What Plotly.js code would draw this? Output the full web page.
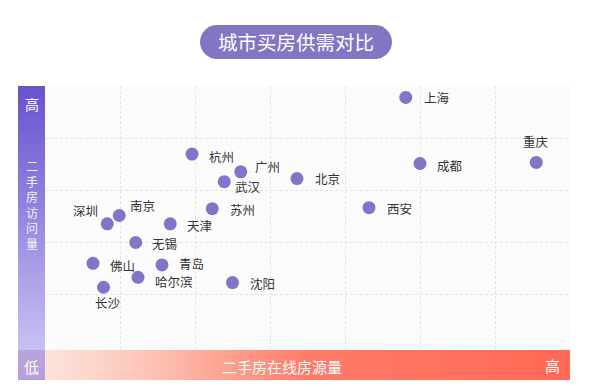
<!DOCTYPE html>
<html>
<head>
<meta charset="utf-8">
<script src="https://cdn.plot.ly/plotly-3.0.1.min.js"></script>
<style>
html,body{margin:0;padding:0;background:#fff;}
#chart{width:600px;height:385px;}
</style>
</head>
<body>
<div id="chart"></div>
<script>
// ---- data ----
var cities = ["上海","重庆","成都","北京","西安","杭州","广州","武汉","苏州","南京","深圳","天津","无锡","佛山","青岛","哈尔滨","沈阳","长沙"];
var onlineListings = [48.1, 65.5, 50.0, 33.6, 43.2, 19.6, 26.1, 23.9, 22.3, 9.9, 8.3, 16.7, 12.1, 6.4, 15.6, 12.4, 25.0, 7.8];
var visitVolume    = [47.8, 35.3, 35.1, 32.2, 26.6, 36.9, 33.5, 31.6, 26.4, 25.1, 23.5, 23.5, 19.9, 15.9, 15.6, 13.2, 12.2, 11.3];
var titleText = "城市买房供需对比";
var xAxisText = "二手房在线房源量";
var yAxisText = "二手房访问量";
var highText = "高";
var lowText = "低";

// ---- label placement (styling only) ----
var labelAnchor = ["left","center","left","left","left","left","left","left","left","left","right","left","left","left","left","left","left","center"];
var labelDx     = [16, 0, 15, 16, 16, 15, 12, 9, 16, 9, -7, 15, 14, 15, 15, 15, 15, 4];
var labelDy     = [0, 21, -2, 0, -1, -2, 5, -5, -1, 10, 13, -2, -1, -2, 1.5, -4.5, -1, -15];

var FONT = "Noto Sans CJK SC, Noto Sans, sans-serif";
var L = 45, R = 30, T = 86, B = 35, W = 600, H = 385;
var pw = W - L - R, ph = H - T - B;
function px2paperX(px){ return (px - L) / pw; }
function px2paperY(py){ return (H - B - py) / ph; }

function gradSvg(x1,y1,x2,y2,stops){
  var s = '<svg xmlns="http://www.w3.org/2000/svg" width="100" height="100" preserveAspectRatio="none" viewBox="0 0 100 100">' +
    '<defs><linearGradient id="g" x1="'+x1+'" y1="'+y1+'" x2="'+x2+'" y2="'+y2+'">';
  stops.forEach(function(st){ s += '<stop offset="'+st[0]+'" stop-color="'+st[1]+'"/>'; });
  s += '</linearGradient></defs><rect x="0" y="0" width="100" height="100" fill="url(#g)"/></svg>';
  return 'data:image/svg+xml;charset=utf-8,' + encodeURIComponent(s);
}

var trace = {
  type: "scatter",
  mode: "markers",
  x: onlineListings,
  y: visitVolume,
  text: cities,
  hoverinfo: "text",
  marker: {size: 13, color: "#8174c9", line: {width: 0}},
  cliponaxis: false
};

var annotations = cities.map(function(c, i){
  return {
    xref: "x", yref: "y", x: onlineListings[i], y: visitVolume[i],
    text: c, showarrow: false, xanchor: labelAnchor[i], yanchor: "middle",
    xshift: labelDx[i], yshift: labelDy[i],
    font: {family: FONT, size: 12.5, color: "#333333"}
  };
});

// title
annotations.push({xref:"paper", yref:"paper", x: px2paperX(296), y: px2paperY(42), text: titleText,
  showarrow:false, xanchor:"center", yanchor:"middle", font:{family:FONT, size:19.5, color:"#ffffff"}});
// x axis label
annotations.push({xref:"paper", yref:"paper", x: px2paperX(282), y: px2paperY(366), text: xAxisText,
  showarrow:false, xanchor:"center", yanchor:"middle", font:{family:FONT, size:15, color:"#ffffff"}});
annotations.push({xref:"paper", yref:"paper", x: px2paperX(552), y: px2paperY(365), text: highText,
  showarrow:false, xanchor:"center", yanchor:"middle", font:{family:FONT, size:15, color:"#ffffff"}});
// y axis label (vertical, stacked chars in one text)
annotations.push({xref:"paper", yref:"paper", x: px2paperX(31.5), y: px2paperY(104), text: highText,
  showarrow:false, xanchor:"center", yanchor:"middle", font:{family:FONT, size:14, color:"#ffffff"}});
annotations.push({xref:"paper", yref:"paper", x: px2paperX(31.5), y: px2paperY(204), text: yAxisText.split("").join("<br>"),
  showarrow:false, xanchor:"center", yanchor:"middle", borderpad: 0,
  font:{family:FONT, size:12, color:"rgba(255,255,255,0.92)"}});
annotations.push({xref:"paper", yref:"paper", x: px2paperX(31.5), y: px2paperY(366), text: lowText,
  showarrow:false, xanchor:"center", yanchor:"middle", font:{family:FONT, size:15, color:"#ffffff"}});

// rounded pill for title (pixel sized)
var pw2 = 96, ph2 = 17, r = 17, k = 0.5523*r;
var pill = "M " + (-pw2 + r) + " " + (-ph2) +
  " L " + (pw2 - r) + " " + (-ph2) +
  " C " + (pw2 - r + k) + " " + (-ph2) + " " + pw2 + " " + (-k) + " " + pw2 + " 0" +
  " C " + pw2 + " " + k + " " + (pw2 - r + k) + " " + ph2 + " " + (pw2 - r) + " " + ph2 +
  " L " + (-pw2 + r) + " " + ph2 +
  " C " + (-pw2 + r - k) + " " + ph2 + " " + (-pw2) + " " + k + " " + (-pw2) + " 0" +
  " C " + (-pw2) + " " + (-k) + " " + (-pw2 + r - k) + " " + (-ph2) + " " + (-pw2 + r) + " " + (-ph2) + " Z";

var shapes = [{
  type: "path", xref: "paper", yref: "paper", xsizemode: "pixel", ysizemode: "pixel",
  xanchor: px2paperX(296), yanchor: px2paperY(42), path: pill,
  fillcolor: "#8276c4", line: {width: 0}, layer: "below"
}];

var images = [
  { // y bar
    source: gradSvg(0,0,0,1,[[0,"#6a51cf"],[0.5,"#9488e0"],[1,"#c8c1f3"]]),
    xref:"paper", yref:"paper", x: px2paperX(18), y: px2paperY(86), sizex: 27/pw, sizey: 264/ph,
    xanchor:"left", yanchor:"top", sizing:"stretch", layer:"above"
  },
  { // low cell
    source: gradSvg(0,0,0,1,[[0,"#bba4dc"],[1,"#b69ed8"]]),
    xref:"paper", yref:"paper", x: px2paperX(18), y: px2paperY(350), sizex: 27/pw, sizey: 30/ph,
    xanchor:"left", yanchor:"top", sizing:"stretch", layer:"above"
  },
  { // x bar
    source: gradSvg(0,0,1,0,[[0,"#fde3db"],[0.2,"#fcc3b6"],[0.5,"#ff7b68"],[1,"#ff6955"]]),
    xref:"paper", yref:"paper", x: 0, y: px2paperY(350), sizex: 525/pw, sizey: 30/ph,
    xanchor:"left", yanchor:"top", sizing:"stretch", layer:"above"
  }
];

var layout = {
  width: W, height: H,
  margin: {l: L, r: R, t: T, b: B, pad: 0},
  paper_bgcolor: "#ffffff",
  plot_bgcolor: "#fbfbfc",
  showlegend: false,
  xaxis: {range: [0, 70], tickvals: [10,20,30,40,50,60,70], showticklabels: false, ticks: "",
    showgrid: true, gridcolor: "#e4e4e4", griddash: "3px,2px", gridwidth: 1, zeroline: false, showline: false, fixedrange: true},
  yaxis: {range: [50 - ph/5.2, 50], tickvals: [10,20,30,40,50], showticklabels: false, ticks: "",
    showgrid: true, gridcolor: "#e4e4e4", griddash: "3px,2px", gridwidth: 1, zeroline: false, showline: false, fixedrange: true},
  annotations: annotations,
  shapes: shapes,
  images: images,
  font: {family: FONT}
};

Plotly.newPlot("chart", [trace], layout, {displayModeBar: false, staticPlot: true});
</script>
</body>
</html>
